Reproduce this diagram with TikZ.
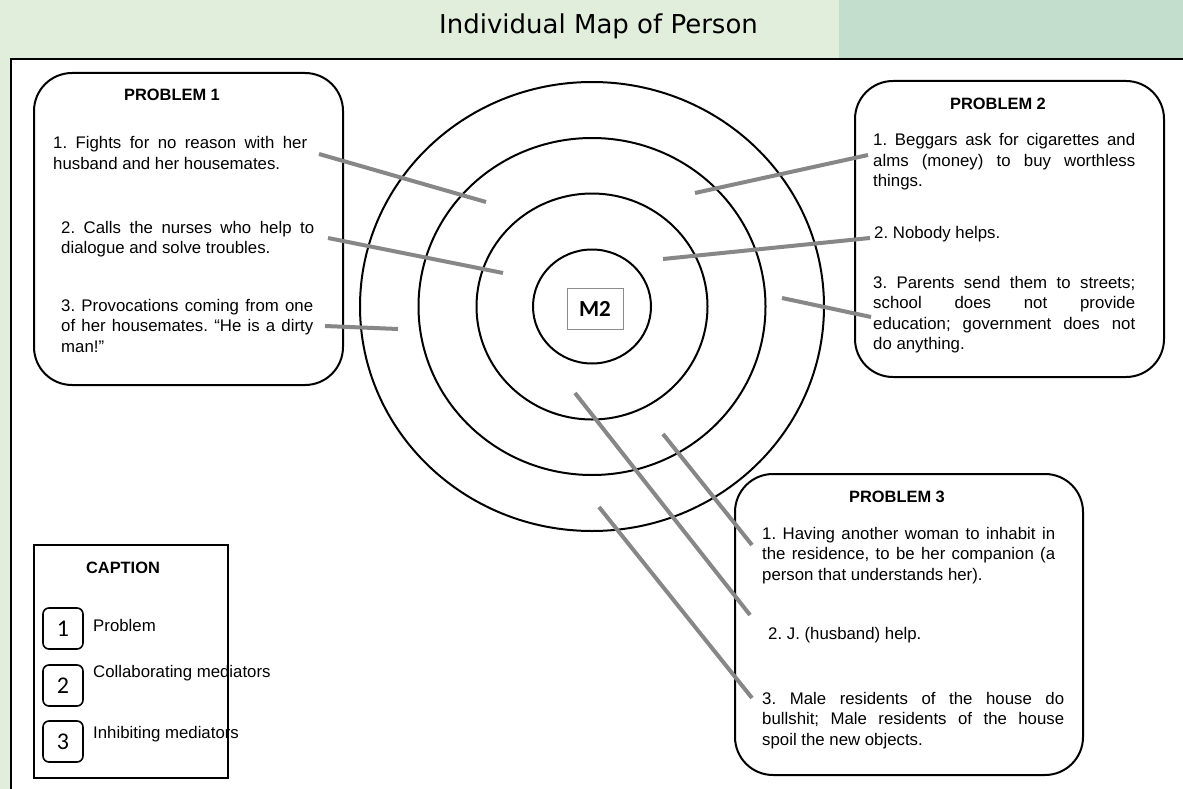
\documentclass[tikz,border=0pt]{standalone}
\usepackage{fontspec}
\setmainfont{Liberation Sans}
\newfontfamily\headfont{DejaVu Sans}
\newfontfamily\calfont{Carlito}
\definecolor{hdrA}{RGB}{226,238,220}
\definecolor{hdrB}{RGB}{195,222,204}
\definecolor{connc}{RGB}{135,135,135}
\frenchspacing
\tikzset{
  bodytxt/.style={inner sep=0pt, anchor=base west, align=justify,
    font=\fontsize{16.8}{20.5}\selectfont\frenchspacing},
  probtitle/.style={inner sep=0pt, anchor=base, font=\bfseries\fontsize{16.4}{20}\selectfont},
  probbox/.style={draw=black, line width=2pt, rounded corners=38pt},
  ring/.style={draw=black, line width=2pt},
  conn/.style={draw=connc, line width=4pt},
  numbox/.style={draw=black, line width=1.6pt, rounded corners=6pt, minimum width=40pt,
    minimum height=41pt, inner sep=0pt, font=\calfont\fontsize{24}{28}\selectfont},
  caplabel/.style={inner sep=0pt, anchor=base west, font=\fontsize{16.8}{20}\selectfont},
}
\begin{document}
\begin{tikzpicture}[x=1pt,y=-1pt]
\useasboundingbox (0,0) rectangle (1183,789);
% header band and page
\fill[hdrA] (0,0) rectangle (839,59);
\fill[hdrB] (839,0) rectangle (1183,59);
\fill[hdrA] (0,59) rectangle (10.5,789);
\fill[white] (10.5,59) rectangle (1183,789);
\draw[line width=2pt] (10.5,789) -- (10.5,59) -- (1183,59);
\node[inner sep=0pt, anchor=base, font=\headfont\fontsize{26}{30}\selectfont] (title) at (598.5,34) {Individual Map of Person};

% rings
\coordinate (c) at (592,306.5);
\draw[ring] (c) ellipse [x radius=59pt, y radius=57pt];
\draw[ring] (c) ellipse [x radius=115.5pt, y radius=113pt];
\draw[ring] (c) ellipse [x radius=173.5pt, y radius=168.5pt];
\draw[ring] (c) ellipse [x radius=232pt, y radius=224.5pt];
\node[draw=black!45, line width=0.8pt, minimum width=56pt, minimum height=41pt, inner sep=0pt,
  font=\calfont\bfseries\fontsize{23}{26}\selectfont] (m2) at (595,308.5) {M2};

% problem boxes
\draw[probbox] (34,73) rectangle (343,385);
\draw[probbox] (855,81) rectangle (1164,377);
\draw[probbox] (735,474) rectangle (1083,775);

% Problem 1
\node[probtitle] (p1t) at (172,101) {PROBLEM 1};
\node[bodytxt, text width=254pt] (p1a) at (53,149) {1. Fights for no reason with her\linebreak husband and her housemates.};
\node[bodytxt, text width=253pt] (p1b) at (61,233) {2. Calls the nurses who help to\linebreak dialogue and solve troubles.};
\node[bodytxt, text width=252pt] (p1c) at (61,311) {3. Provocations coming from one\linebreak of her housemates. “He is a dirty\linebreak man!”};

% Problem 2
\node[probtitle] (p2t) at (998,110) {PROBLEM 2};
\node[bodytxt, text width=262pt] (p2a) at (873,146) {1. Beggars ask for cigarettes and\linebreak alms (money) to buy worthless\linebreak things.};
\node[bodytxt, text width=262pt] (p2b) at (874,238) {2. Nobody helps.};
\node[bodytxt, text width=262pt] (p2c) at (873,288) {3. Parents send them to streets;\linebreak school does not provide\linebreak education; government does not\linebreak do anything.};

% Problem 3
\node[probtitle] (p3t) at (897,502) {PROBLEM 3};
\node[bodytxt, text width=293pt] (p3a) at (762,539) {1. Having another woman to inhabit in\linebreak the residence, to be her companion (a\linebreak person that understands her).};
\node[bodytxt, text width=293pt] (p3b) at (768,639) {2. J. (husband) help.};
\node[bodytxt, text width=302pt] (p3c) at (762,704) {3. Male residents of the house do\linebreak bullshit; Male residents of the house\linebreak spoil the new objects.};

% connectors
\coordinate (a1s) at (319,154);  \coordinate (a1e) at (486,202);
\coordinate (a2s) at (328,238);  \coordinate (a2e) at (503,273);
\coordinate (a3s) at (325,326);  \coordinate (a3e) at (398,329);
\coordinate (b1s) at (868,155);  \coordinate (b1e) at (695,193);
\coordinate (b2s) at (870,238);  \coordinate (b2e) at (663,259);
\coordinate (b3s) at (871,317);  \coordinate (b3e) at (782,298);
\coordinate (d1s) at (752,545);  \coordinate (d1e) at (663,434);
\coordinate (d2s) at (750,615);  \coordinate (d2e) at (575,393);
\coordinate (d3s) at (752,698);  \coordinate (d3e) at (599,507);
\draw[conn] (a1s) -- (a1e);
\draw[conn] (a2s) -- (a2e);
\draw[conn] (a3s) -- (a3e);
\draw[conn] (b1s) -- (b1e);
\draw[conn] (b2s) -- (b2e);
\draw[conn] (b3s) -- (b3e);
\draw[conn] (d1s) -- (d1e);
\draw[conn] (d2s) -- (d2e);
\draw[conn] (d3s) -- (d3e);

% caption
\draw[line width=2pt] (34,545) rectangle (228,778);
\node[probtitle] (capt) at (123,573) {CAPTION};
\node[numbox] (n1) at (63,628.5) {1};
\node[numbox] (n2) at (63,685.5) {2};
\node[numbox] (n3) at (63,741.5) {3};
\node[caplabel] (l1) at (93,631) {Problem};
\node[caplabel] (l2) at (93,677) {Collaborating mediators};
\node[caplabel] (l3) at (93,738) {Inhibiting mediators};
\end{tikzpicture}
\end{document}
